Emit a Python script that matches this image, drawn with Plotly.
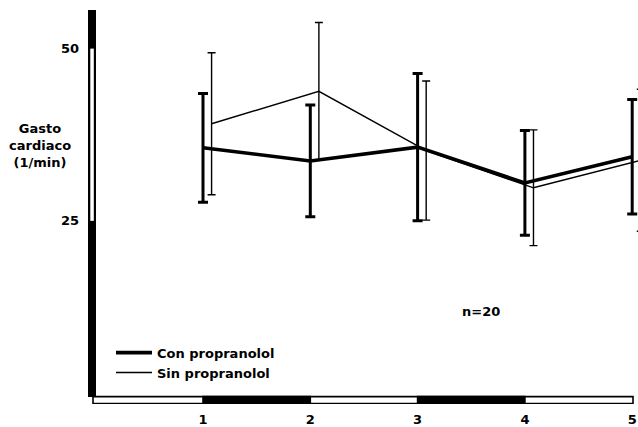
import plotly.graph_objects as go

# ---- data ----
visits = [1, 2, 3, 4, 5]
con_mean = [35.6, 33.7, 35.7, 30.5, 34.3]   # Con propranolol
con_err = [7.9, 8.1, 10.7, 7.6, 8.3]
sin_mean = [39.1, 43.8, 35.2, 29.8, 33.8]   # Sin propranolol
sin_err = [10.3, 10.0, 10.1, 8.4, 10.3]
x_tick_vals = [1, 2, 3, 4, 5]
x_tick_text = ["1", "2", "3", "4", "5"]
y_tick_vals = [25, 50]
y_tick_text = ["25", "50"]
series_names = ["Con propranolol", "Sin propranolol"]

# ---- layout geometry (pixels) ----
W, H = 638, 427
L, R, T, B = 88, 0, 10, 19
X0PX, XSTEP = 95.7, 107.3      # pixel of x=0, pixels per unit
Y50PX, YSTEP = 49.0, 6.96      # pixel of y=50, pixels per unit
SIN_OFFSET = 0.08              # horizontal shift of the second series

def xd(px):
    return (px - X0PX) / XSTEP

def yd(py):
    return 50 - (py - Y50PX) / YSTEP

FONT = "DejaVu Sans"
INK = "black"

fig = go.Figure()

fig.add_trace(go.Scatter(
    x=[v + SIN_OFFSET for v in visits], y=sin_mean, name=series_names[1],
    mode="lines", line=dict(color=INK, width=1.4),
    error_y=dict(type="data", array=sin_err, visible=True, color=INK,
                 thickness=1.4, width=4),
    legendrank=2,
))
fig.add_trace(go.Scatter(
    x=visits, y=con_mean, name=series_names[0],
    mode="lines", line=dict(color=INK, width=3.6),
    error_y=dict(type="data", array=con_err, visible=True, color=INK,
                 thickness=3, width=5),
    legendrank=1,
))

shapes = []
# vertical axis bar: black, white middle section (25-50), black
shapes.append(dict(type="rect", xref="x", yref="y", x0=xd(88), x1=xd(96),
                   y0=yd(401), y1=yd(10), fillcolor=INK, line=dict(width=0)))
shapes.append(dict(type="rect", xref="x", yref="y", x0=xd(90.3), x1=xd(93.8),
                   y0=y_tick_vals[0], y1=y_tick_vals[1], fillcolor="white",
                   line=dict(width=0)))
# horizontal axis bar with alternating segments
shapes.append(dict(type="rect", xref="x", yref="y", x0=xd(93), x1=xd(633),
                   y0=yd(407.5), y1=yd(400.5), fillcolor="white",
                   line=dict(color=INK, width=1.6)))
for a, b in [(1, 2), (3, 4)]:
    shapes.append(dict(type="rect", xref="x", yref="y", x0=a, x1=b,
                       y0=yd(407.5), y1=yd(400.5), fillcolor=INK,
                       line=dict(color=INK, width=1.6)))

fig.update_layout(
    width=W, height=H,
    margin=dict(l=L, r=R, t=T, b=B),
    paper_bgcolor="white", plot_bgcolor="white",
    font=dict(family=FONT, color=INK, size=13, weight="bold"),
    shapes=shapes,
    showlegend=True,
    legend=dict(x=(111 - L) / (W - L - R), y=1 - (341 - T) / (H - T - B),
                xanchor="left", yanchor="top", bgcolor="rgba(0,0,0,0)",
                itemwidth=36,
                font=dict(family=FONT, size=13, weight="bold", color=INK)),
    xaxis=dict(range=[xd(L), xd(W - R)], showgrid=False, zeroline=False,
               showline=False, ticks="", tickvals=x_tick_vals,
               ticktext=x_tick_text, ticklabelstandoff=6,
               tickfont=dict(family=FONT, size=13, weight="bold")),
    yaxis=dict(range=[yd(H - B), yd(T)], showgrid=False, zeroline=False,
               showline=False, ticks="", tickvals=y_tick_vals,
               ticktext=y_tick_text, ticklabelstandoff=8,
               tickfont=dict(family=FONT, size=13, weight="bold")),
    annotations=[
        dict(text="Gasto<br>cardiaco<br>(1/min)", xref="paper", yref="paper",
             x=(40 - L) / (W - L - R), y=1 - (147 - T) / (H - T - B),
             xanchor="center", yanchor="middle", showarrow=False,
             font=dict(family=FONT, size=13, weight="bold")),
        dict(text="n=20", xref="paper", yref="paper",
             x=(481 - L) / (W - L - R), y=1 - (315 - T) / (H - T - B),
             xanchor="center", yanchor="middle", showarrow=False,
             font=dict(family=FONT, size=13, weight="bold")),
    ],
)

fig.write_html("out.html")
